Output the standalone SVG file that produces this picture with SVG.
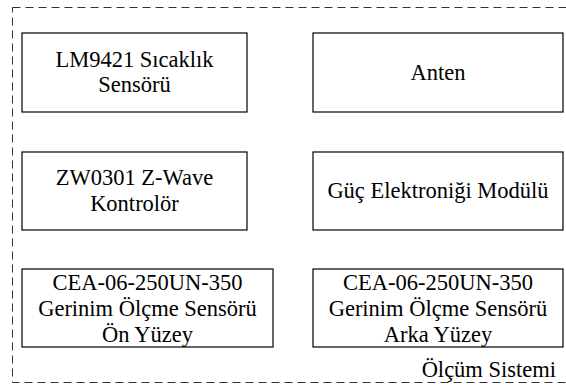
<svg xmlns="http://www.w3.org/2000/svg" width="566" height="387" viewBox="0 0 566 387">
<style>
.frame{fill:none;stroke:#333;stroke-width:1;stroke-dasharray:8 5}
.box{fill:#fff;stroke:#000;stroke-width:1.2}
.t{font-size:22.5px;fill:#000;text-anchor:middle}
.e{text-anchor:end}
</style>
<rect width="566" height="387" fill="#fff"/>
<g font-family="Liberation Serif, Times New Roman, DejaVu Serif, serif">
<g id="olcum-sistemi">
<rect class="frame" x="12.5" y="7.5" width="570" height="375"/>
<text class="t e" x="556" y="377">Ölçüm Sistemi</text>
</g>
<g id="lm9421">
<rect class="box" x="22" y="33" width="225" height="79"/>
<text class="t" x="134.5" y="67">LM9421 Sıcaklık</text>
<text class="t" x="134.5" y="92">Sensörü</text>
</g>
<g id="anten">
<rect class="box" x="313" y="33" width="250" height="79"/>
<text class="t" x="438" y="80">Anten</text>
</g>
<g id="zw0301">
<rect class="box" x="22" y="152" width="225" height="78"/>
<text class="t" x="134.5" y="185">ZW0301 Z-Wave</text>
<text class="t" x="134.5" y="211">Kontrolör</text>
</g>
<g id="guc">
<rect class="box" x="313" y="152" width="250" height="78"/>
<text class="t" x="438" y="198">Güç Elektroniği Modülü</text>
</g>
<g id="cea-on">
<rect class="box" x="22" y="269" width="251" height="78"/>
<text class="t" x="147.5" y="290">CEA-06-250UN-350</text>
<text class="t" x="147.5" y="316">Gerinim Ölçme Sensörü</text>
<text class="t" x="147.5" y="341.5">Ön Yüzey</text>
</g>
<g id="cea-arka">
<rect class="box" x="313" y="269" width="250" height="78"/>
<text class="t" x="438" y="290">CEA-06-250UN-350</text>
<text class="t" x="438" y="316">Gerinim Ölçme Sensörü</text>
<text class="t" x="438" y="341.5">Arka Yüzey</text>
</g>
</g>
<g id="connectors"></g>
</svg>
